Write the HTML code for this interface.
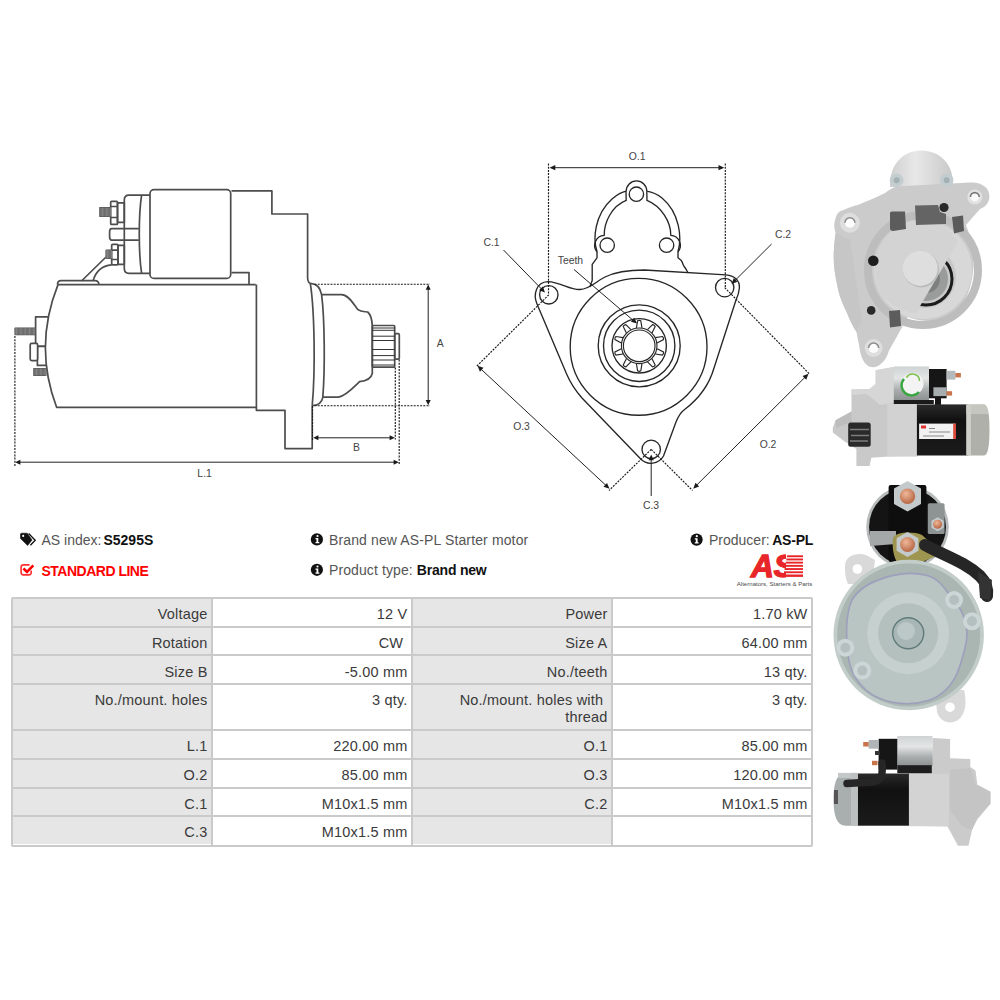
<!DOCTYPE html>
<html><head><meta charset="utf-8">
<style>
*{margin:0;padding:0;box-sizing:border-box}
html,body{width:1000px;height:1000px;background:#fff;overflow:hidden}
body{position:relative;font-family:"Liberation Sans",sans-serif;color:#333}
.abs{position:absolute}
svg{position:absolute;left:0;top:0}
.hd{position:absolute;font-size:14px;line-height:16px;white-space:nowrap;color:#555}
.hd b{color:#111;font-weight:700}
.tbl{position:absolute;left:11px;top:596.5px;width:802px;height:250px;border:2px solid #cacaca;border-radius:2px;background:#fff}
.cell{position:absolute;font-size:14.5px;line-height:17px;color:#3a3a3a;text-align:right;letter-spacing:0.2px;white-space:nowrap}
.lab{position:absolute;background:#e6e6e6}
.hl{position:absolute;height:2px;background:#cacaca}
.vl{position:absolute;width:2px;background:#cacaca}
</style></head>
<body>

<!-- ============ TABLE ============ -->
<div class="tbl"></div>
<div class="lab" style="left:13px;top:598.5px;width:198px;height:245.5px"></div>
<div class="lab" style="left:413px;top:598.5px;width:198px;height:245.5px"></div>
<div class="vl" style="left:211px;top:597px;height:248px"></div>
<div class="vl" style="left:411px;top:597px;height:248px"></div>
<div class="vl" style="left:611px;top:597px;height:248px"></div>
<div class="hl" style="left:12px;top:625.5px;width:800px"></div>
<div class="hl" style="left:12px;top:654px;width:800px"></div>
<div class="hl" style="left:12px;top:683px;width:800px"></div>
<div class="hl" style="left:12px;top:729px;width:800px"></div>
<div class="hl" style="left:12px;top:758px;width:800px"></div>
<div class="hl" style="left:12px;top:786.5px;width:800px"></div>
<div class="hl" style="left:12px;top:815px;width:800px"></div>

<!-- rows: text baselines approx top+20.5 -->
<div class="cell" style="right:792.5px;top:606px">Voltage</div>
<div class="cell" style="right:592.5px;top:606px">12 V</div>
<div class="cell" style="right:392.5px;top:606px">Power</div>
<div class="cell" style="right:192.5px;top:606px">1.70 kW</div>

<div class="cell" style="right:792.5px;top:635px">Rotation</div>
<div class="cell" style="right:592.5px;top:635px">CW&nbsp;</div>
<div class="cell" style="right:392.5px;top:635px">Size A</div>
<div class="cell" style="right:192.5px;top:635px">64.00 mm</div>

<div class="cell" style="right:792.5px;top:663.5px">Size B</div>
<div class="cell" style="right:592.5px;top:663.5px">-5.00 mm</div>
<div class="cell" style="right:392.5px;top:663.5px">No./teeth</div>
<div class="cell" style="right:192.5px;top:663.5px">13 qty.</div>

<div class="cell" style="right:792.5px;top:692px">No./mount. holes</div>
<div class="cell" style="right:592.5px;top:692px">3 qty.</div>
<div class="cell" style="right:392.5px;top:692px">No./mount. holes with&nbsp;<br>thread</div>
<div class="cell" style="right:192.5px;top:692px">3 qty.</div>

<div class="cell" style="right:792.5px;top:738px">L.1</div>
<div class="cell" style="right:592.5px;top:738px">220.00 mm</div>
<div class="cell" style="right:392.5px;top:738px">O.1</div>
<div class="cell" style="right:192.5px;top:738px">85.00 mm</div>

<div class="cell" style="right:792.5px;top:767px">O.2</div>
<div class="cell" style="right:592.5px;top:767px">85.00 mm</div>
<div class="cell" style="right:392.5px;top:767px">O.3</div>
<div class="cell" style="right:192.5px;top:767px">120.00 mm</div>

<div class="cell" style="right:792.5px;top:795.5px">C.1</div>
<div class="cell" style="right:592.5px;top:795.5px">M10x1.5 mm</div>
<div class="cell" style="right:392.5px;top:795.5px">C.2</div>
<div class="cell" style="right:192.5px;top:795.5px">M10x1.5 mm</div>

<div class="cell" style="right:792.5px;top:824px">C.3</div>
<div class="cell" style="right:592.5px;top:824px">M10x1.5 mm</div>

<!-- ============ HEADER INFO ============ -->
<div class="hd" style="left:41.5px;top:532.2px">AS index:<b style="margin-left:2px">S5295S</b></div>
<div class="hd" style="left:41.5px;top:563px;color:#f00;font-weight:700;letter-spacing:-0.5px">STANDARD LINE</div>
<div class="hd" style="left:329px;top:532px;letter-spacing:0.13px">Brand new AS-PL Starter motor</div>
<div class="hd" style="left:329px;top:562px;letter-spacing:0.1px">Product type: <b style="letter-spacing:-0.2px">Brand new</b></div>
<div class="hd" style="left:709px;top:532px">Producer:<b style="margin-left:2.5px;letter-spacing:-0.2px">AS-PL</b></div>

<svg width="1000" height="1000" viewBox="0 0 1000 1000">
  <!-- tag icon -->
  <path d="M21.2 533.2 H27.2 L32 540 L27.6 545.5 L20.5 538.4 V534 Z" fill="#111" stroke="#111" stroke-width="0.6" stroke-linejoin="round"/>
  <path d="M28.6 533.5 L35.2 540.3 L30.4 545.3" fill="none" stroke="#111" stroke-width="1.35"/>
  <circle cx="23.2" cy="535.9" r="1.05" fill="#fff"/>
  <!-- check icon -->
  <path d="M29.6 564.9 H23.4 Q21.1 564.9 21.1 567.2 V572.6 Q21.1 574.9 23.4 574.9 H28.9 Q31.2 574.9 31.2 572.6 V570.4" fill="none" stroke="#ff3030" stroke-width="1.6"/>
  <path d="M23.4 568.5 L27 571.9 L33.3 565.4" fill="none" stroke="#f00" stroke-width="2.6"/>
  <!-- info icons -->
  <g>
    <circle cx="316.9" cy="539.4" r="6.1" fill="#111"/>
    <circle cx="316.9" cy="569.8" r="6.1" fill="#111"/>
    <circle cx="696.6" cy="539.6" r="6.1" fill="#111"/>
  </g>
  <g fill="#fff">
    <circle cx="317.5" cy="536" r="1.1"/><path d="M315.5 538 h2.8 v4 h1 v1.2 h-3.8 v-1.2 h1 v-2.8 h-1 z"/>
    <circle cx="317.5" cy="566.5" r="1.1"/><path d="M315.5 568.5 h2.8 v4 h1 v1.2 h-3.8 v-1.2 h1 v-2.8 h-1 z"/>
    <circle cx="696.8" cy="536.2" r="1.1"/><path d="M694.8 538.2 h2.8 v4 h1 v1.2 h-3.8 v-1.2 h1 v-2.8 h-1 z"/>
  </g>
  <!-- AS logo -->
  <text x="751" y="577" font-family="Liberation Sans" font-weight="bold" font-style="italic" font-size="31" fill="#e8262a" stroke="#e8262a" stroke-width="1.3" textLength="44" lengthAdjust="spacingAndGlyphs">AS</text>
  <rect x="786" y="553" width="20" height="26" fill="#fff"/>
  <g fill="#e8262a">
    <rect x="787" y="555.3" width="16" height="1.9"/>
    <rect x="786.4" y="558.5" width="16.6" height="1.9"/>
    <rect x="785.8" y="561.7" width="17.2" height="1.9"/>
    <rect x="785.2" y="564.9" width="17.8" height="1.9"/>
    <rect x="784.6" y="568.1" width="18.4" height="1.9"/>
    <rect x="784" y="571.3" width="19" height="1.9"/>
    <rect x="783.4" y="574.5" width="19.6" height="2.4"/>
  </g>
  <text x="736.8" y="586" font-family="Liberation Sans" font-size="5.6" fill="#4a4a4a" textLength="75.5" lengthAdjust="spacingAndGlyphs">Alternators, Starters &amp; Parts</text>
  <!-- ============ LEFT DIAGRAM ============ -->
  <g fill="none" stroke="#4d4d4d" stroke-width="1.7" stroke-linejoin="round">
    <!-- housing -->
    <path d="M231.5 190.8 H271.9 V214 H307.6 V278 C307.8 281 308.5 283 310.5 283.6"/>
    <path d="M231.5 272.6 H249 V284.6"/>
    <path d="M256.4 407.3 V410.3 H285 V448.6 H312.2 V405.7"/>
    <!-- solenoid body -->
    <rect x="150" y="189.6" width="80.7" height="88.8" rx="4"/>
    <!-- solenoid cap -->
    <path d="M150 195.2 H129 C126 195.2 124.3 197 124.3 200 V268.5 C124.3 271.5 126 273.3 129 273.3 H150"/>
    <path d="M141.6 195.2 C138.5 215 138.5 253 141.6 273.3"/>
    <!-- middle bar -->
    <path d="M138.8 228.6 H111.6 C110 228.6 109.6 230 109.6 232 V236.8 C109.6 238.8 110 240.1 111.6 240.1 H138.8"/>
    <!-- upper terminal -->
    <rect x="117.5" y="202.9" width="6.8" height="19.4"/>
    <rect x="110.7" y="201.3" width="6.8" height="23.1" rx="1"/>
    <path d="M110.7 206.5 H117.5 M110.7 217.5 H117.5"/>
    <!-- lower terminal -->
    <rect x="118" y="245.4" width="6.3" height="18.9"/>
    <rect x="111.7" y="244.3" width="6.3" height="20.5" rx="1"/>
    <path d="M111.7 250.1 H118 M111.7 259.5 H118"/>
    <!-- wire -->
    <path d="M106 257 L81.5 281"/>
    <path d="M111.7 264.8 C104 265.5 96 270 93 281"/>
    <!-- end bracket -->
    <rect x="35.6" y="316.8" width="16" height="29.5" fill="#fff"/>
    <rect x="37.4" y="346.3" width="14" height="19.1" fill="#fff"/>
    <rect x="30.2" y="343.3" width="7.4" height="17.3" rx="1.5" fill="#fff"/>
    <!-- motor body -->
    <path d="M255.6 284.6 H58 Q33.5 346 56.6 407.3 H256.4 V284.6" fill="#fff"/>
    <path d="M57.5 284.6 C57.5 281.5 59 280.6 61 280.6 H95 C97.5 280.6 98.8 282.5 99 284.6"/>
    <!-- flange -->
    <path d="M310.3 283.4 C314.5 310 315.5 370 312.2 405.7"/>
    <path d="M310.3 283.4 C316 283.6 320 286 321.6 294.7 C324.8 320 325 370 322.8 397.4 C322 402 319 405.4 312.2 405.7"/>
    <!-- nose -->
    <path d="M321.8 294.7 H341.5 C349 294.7 354 305 358 309.7 C361 312 364 311.5 367.7 312 C371 315 372 320 372.3 325.5 V373.5 C371 379 366 381 359.5 381.7 C353 388 346 396 338.5 397.2 H322.8"/>
    <!-- pinion -->
    <rect x="372.3" y="325.5" width="22.4" height="41.7" rx="1"/>
    <rect x="394.7" y="333.7" width="4.6" height="25.5" rx="1.2"/>
  </g>
  <!-- threads -->
  <g fill="#4a4a4a">
    <rect x="99.1" y="207" width="11.6" height="10" rx="0.8"/>
    <rect x="105.4" y="249.6" width="6.3" height="9.4" rx="1.2"/>
    <rect x="14.4" y="327.6" width="21.2" height="7.7" rx="0.8"/>
    <rect x="33.1" y="367.9" width="13.5" height="8.1" rx="0.8"/>
  </g>
  <g stroke="#b8b8b8" stroke-width="0.55">
    <path d="M99.9 207.5v9.0 M101.2 207.5v9.0 M102.5 207.5v9.0 M103.8 207.5v9.0 M105.1 207.5v9.0 M106.4 207.5v9.0 M107.7 207.5v9.0 M109.0 207.5v9.0 M110.3 207.5v9.0"/>
    <path d="M106.2 250.1v8.4 M107.5 250.1v8.4 M108.8 250.1v8.4 M110.1 250.1v8.4 M111.4 250.1v8.4"/>
    <path d="M15.2 328.1v6.7 M16.5 328.1v6.7 M17.8 328.1v6.7 M19.1 328.1v6.7 M20.4 328.1v6.7 M21.7 328.1v6.7 M23.0 328.1v6.7 M24.3 328.1v6.7 M25.6 328.1v6.7 M26.9 328.1v6.7 M28.2 328.1v6.7 M29.5 328.1v6.7 M30.8 328.1v6.7 M32.1 328.1v6.7 M33.4 328.1v6.7 M34.7 328.1v6.7"/>
    <path d="M33.9 368.4v7.1 M35.2 368.4v7.1 M36.5 368.4v7.1 M37.8 368.4v7.1 M39.1 368.4v7.1 M40.4 368.4v7.1 M41.7 368.4v7.1 M43.0 368.4v7.1 M44.3 368.4v7.1 M45.6 368.4v7.1"/>
  </g>
  <!-- pinion teeth -->
  <g stroke="#333" stroke-width="1">
    <path d="M372.3 328 H394.7 M372.3 330.3 H394.7 M372.3 336.2 H394.7 M372.3 340.5 H394.7 M372.3 349.5 H394.7 M372.3 355.6 H394.7 M372.3 360 H394.7 M372.3 365 H394.7"/>
  </g>
  <!-- dimension lines -->
  <g fill="none" stroke="#1a1a1a" stroke-width="1.15" stroke-dasharray="2 1.2">
    <path d="M14.9 336 V466"/>
    <path d="M314.5 284.2 H430"/>
    <path d="M314.5 405.7 H430"/>
    <path d="M395.3 367.5 V439.5"/>
    <path d="M399.2 359.5 V464"/>
    <path d="M312.5 406 V440"/>
  </g>
  <g fill="none" stroke="#222" stroke-width="1">
    <path d="M428.2 287 V403"/>
    <path d="M316 437.8 H393"/>
    <path d="M17 462.2 H397"/>
  </g>
  <g fill="#1a1a1a">
    <path d="M428.20 284.50 L430.70 289.70 L425.70 289.70 Z"/>
    <path d="M428.20 405.20 L425.70 400.00 L430.70 400.00 Z"/>
    <path d="M313.20 437.80 L318.40 435.30 L318.40 440.30 Z"/>
    <path d="M394.80 437.80 L389.60 440.30 L389.60 435.30 Z"/>
    <path d="M15.20 462.20 L20.40 459.70 L20.40 464.70 Z"/>
    <path d="M398.80 462.20 L393.60 464.70 L393.60 459.70 Z"/>
  </g>
  <g font-family="Liberation Sans" font-size="10.4" fill="#444" text-anchor="middle">
    <text x="440.3" y="347.3">A</text>
    <text x="356.5" y="451">B</text>
    <text x="204.6" y="477">L.1</text>
  </g>
  <!-- ============ MIDDLE DIAGRAM ============ -->
  <g fill="none" stroke="#262626" stroke-width="1.35" stroke-linejoin="round">
    <!-- flange outline -->
    <path d="M644.5 270 L726 274.8 C734 275.5 740 280 739.4 288 C739 292 738 296 736 300 L714 368 C710 382 700 398 684 410 C680 413 678 417 676 422 L663.5 456 A14.4 14.4 0 0 1 640.5 458.8 L582 398 C575 390 570 382 566.6 374 L537 304 C533 295 536 282 548 281.6 C560 282 570 290 580 289.5 C590 289 595 282 605 277 C615 272 628 270 644.5 270 Z"/>
    <!-- top bracket -->
    <path d="M589.8 287 L592.2 280.6 V264.4 L597 257.8 V251.8 C593 240 594 215 612 199 C618 194 622 192 626.2 191.2 A10.2 10.2 0 0 1 646.8 191.2 C652 192 657 194 662 198 C680 213 682 238 678 251.8 V257.8 L681 260.2 C683 263 683 265 684 266.2 C685.5 268 686.5 270 687.8 272.4"/>
    <path d="M597 251.8 A10 10 0 0 1 604.2 235.4 C604 222 612 206 626.2 200.4 L626 191.5 M646.8 191.5 L647 200.4 C661 206 671 222 670.8 235.4 A10 10 0 0 1 678 251.8"/>
    <circle cx="636.4" cy="194.2" r="7.2"/>
    <circle cx="607.2" cy="245.2" r="7.2"/>
    <circle cx="666.6" cy="245.2" r="7.2"/>
    <!-- holes -->
    <circle cx="548.8" cy="294.8" r="9.2"/>
    <circle cx="724.7" cy="287.6" r="9.2"/>
    <circle cx="651.2" cy="449.4" r="9.2"/>
    <!-- rings -->
    <circle cx="638.6" cy="346.8" r="68.4"/>
    <circle cx="639.2" cy="345.8" r="41"/>
    <circle cx="639.2" cy="345.8" r="35.7"/>
    <circle cx="639.2" cy="345.8" r="27.2"/>
  </g>
  <g fill="none" stroke="#262626" stroke-width="1.15">
    <circle cx="639.2" cy="345.8" r="17.8"/>
    <circle cx="639.2" cy="345.8" r="15.8"/>
    <path d="M636.40 327.90 L637.60 320.80 Q639.20 319.80 640.80 320.80 L642.00 327.90 M647.46 329.67 L652.60 324.63 Q654.48 324.77 655.19 326.52 L651.99 332.96 M655.36 337.61 L662.48 336.55 Q663.93 337.77 663.47 339.60 L657.09 342.93 M657.09 348.67 L663.47 352.00 Q663.93 353.83 662.48 355.05 L655.36 353.99 M651.99 358.64 L655.19 365.08 Q654.48 366.83 652.60 366.97 L647.46 361.93 M642.00 363.70 L640.80 370.80 Q639.20 371.80 637.60 370.80 L636.40 363.70 M630.94 361.93 L625.80 366.97 Q623.92 366.83 623.21 365.08 L626.41 358.64 M623.04 353.99 L615.92 355.05 Q614.47 353.83 614.93 352.00 L621.31 348.67 M621.31 342.93 L614.93 339.60 Q614.47 337.77 615.92 336.55 L623.04 337.61 M626.41 332.96 L623.21 326.52 Q623.92 324.77 625.80 324.63 L630.94 329.67"/>
  </g>
  <g fill="none" stroke="#1a1a1a" stroke-width="1.15" stroke-dasharray="2 1.2">
    <path d="M548.5 163.5 V294"/>
    <path d="M725.3 163.5 V287"/>
    <path d="M548.8 294.8 L476.5 366.4"/>
    <path d="M651.2 449.4 L609 490.5"/>
    <path d="M724.7 287.6 L809 373.5"/>
    <path d="M651.2 449.4 L692.5 490.5"/>
  </g>
  <g fill="none" stroke="#222" stroke-width="1">
    <path d="M552 167.7 H722"/>
    <path d="M480 368.2 L607 486.4"/>
    <path d="M806 376.3 L695.5 486.3"/>
    <path d="M503.5 250 L542.5 290"/>
    <path d="M771.6 244 L733.5 282"/>
    <path d="M574 269.5 L634.5 321.5"/>
    <path d="M651.2 496 V457"/>
  </g>
  <g fill="#1a1a1a">
    <path d="M549.50 167.70 L555.30 165.10 L555.30 170.30 Z"/>
    <path d="M724.30 167.70 L718.50 170.30 L718.50 165.10 Z"/>
    <path d="M477.50 365.80 L483.51 367.86 L479.96 371.66 Z"/>
    <path d="M609.50 488.80 L603.49 486.73 L607.04 482.94 Z"/>
    <path d="M808.50 373.80 L806.22 379.73 L802.55 376.04 Z"/>
    <path d="M693.20 488.80 L695.48 482.87 L699.14 486.55 Z"/>
    <path d="M545.00 292.50 L539.09 290.17 L542.81 286.53 Z"/>
    <path d="M731.50 284.00 L733.77 278.06 L737.44 281.74 Z"/>
    <path d="M637.00 323.50 L630.90 321.70 L634.29 317.75 Z"/>
    <path d="M651.20 454.50 L653.80 460.30 L648.60 460.30 Z"/>
  </g>
  <g font-family="Liberation Sans" font-size="10.4" fill="#444" text-anchor="middle">
    <text x="637.1" y="160">O.1</text>
    <text x="491.5" y="246">C.1</text>
    <text x="783" y="238">C.2</text>
    <text x="570.4" y="264">Teeth</text>
    <text x="521.5" y="430">O.3</text>
    <text x="768" y="448">O.2</text>
    <text x="651" y="509">C.3</text>
  </g>
  <!-- ============ PHOTOS ============ -->
  <defs>
    <linearGradient id="gFl" x1="0" y1="0" x2="1" y2="1">
      <stop offset="0" stop-color="#e2e2e2"/><stop offset="0.5" stop-color="#d2d2d2"/><stop offset="1" stop-color="#c4c4c4"/>
    </linearGradient>
    <linearGradient id="gDome" x1="0" y1="0" x2="1" y2="0">
      <stop offset="0" stop-color="#cfcfcf"/><stop offset="0.4" stop-color="#e8e8e8"/><stop offset="1" stop-color="#c8c8c8"/>
    </linearGradient>
    <linearGradient id="gSil" x1="0" y1="0" x2="0" y2="1">
      <stop offset="0" stop-color="#cfd3d3"/><stop offset="0.35" stop-color="#e4e6e6"/><stop offset="0.7" stop-color="#a9adad"/><stop offset="1" stop-color="#8d9191"/>
    </linearGradient>
    <linearGradient id="gBlk" x1="0" y1="0" x2="0" y2="1">
      <stop offset="0" stop-color="#2a2a2a"/><stop offset="0.3" stop-color="#111"/><stop offset="1" stop-color="#1b1b1b"/>
    </linearGradient>
    <linearGradient id="gHs" x1="0" y1="0" x2="0" y2="1">
      <stop offset="0" stop-color="#d9d9d9"/><stop offset="0.5" stop-color="#cdcdcd"/><stop offset="1" stop-color="#c2c2c2"/>
    </linearGradient>
    <radialGradient id="gPlate" cx="0.45" cy="0.45" r="0.6">
      <stop offset="0" stop-color="#c9d1d3"/><stop offset="0.6" stop-color="#b6c0c3"/><stop offset="1" stop-color="#9aa5a8"/>
    </radialGradient>
    <radialGradient id="gHub" cx="0.4" cy="0.4" r="0.7">
      <stop offset="0" stop-color="#d8dfe1"/><stop offset="1" stop-color="#9aa6a9"/>
    </radialGradient>
    <radialGradient id="gCu" cx="0.4" cy="0.35" r="0.7">
      <stop offset="0" stop-color="#f0b89a"/><stop offset="1" stop-color="#b3623f"/>
    </radialGradient>
  </defs>

  <!-- Photo 1: front view -->
  <g>
    <path d="M890 187 C889 165 903 150.5 921 150.5 C940 150.5 954 164 953 187 Z" fill="url(#gDome)"/>
    <path d="M896 186.5 L969.7 182.5 C975 182 980 183 984 186 C990 190 991 198 987 204 C985 207 982 208 980 209 L966 225 C972 240 975 255 973 272 C971 292 962 310 949 317 C937 323 920 322 907.8 317 L888.8 351 C887 358 881 367 873.6 367.3 C866 367.5 861 360 859.4 347.3 C858 340 857 335 856.5 332 C852 325 849 318 847 313 C842 302 839 295 837.5 286.5 C835 275 833.5 265 833.7 256 C834 245 835 238 835.6 233.2 C834 228 834 224 834.7 221.8 C836 214 839 211 842.3 210.4 C848 208 853 206 858.4 204.7 C868 201 877 197 885 193 C889 190 892 188 896 186.5 Z" fill="#cbcbcb"/>
    <path d="M847 313 C842 302 839 295 837.5 286.5 C835 275 833.5 265 833.7 256 C834 245 835 238 835.6 233.2 L850 240 L862 320 L856.5 332 C852 325 849 318 847 313 Z" fill="#c6c6c6"/>
    <circle cx="923" cy="270" r="55" fill="none" stroke="#bdbdbd" stroke-width="8"/>
    <circle cx="923" cy="270" r="49" fill="#d8d8d8"/>
    <circle cx="925" cy="277" r="31" fill="#c8c8c8"/>
    <circle cx="926" cy="279" r="26" fill="none" stroke="#1c1c1c" stroke-width="3"/>
    <circle cx="926" cy="279" r="22" fill="#9a9c9c"/>
    <circle cx="926" cy="279" r="14" fill="#7e8080"/>
    <path d="M958 241.8 L916 313 C905 313 890 305 882 295 C874 282 873 262 879 248 C886 232 902 221 920 220 C935 219 948 226 958 241.8 Z" fill="#d3d3d3"/>
    <circle cx="921.2" cy="269.6" r="17.8" fill="#b9b9b9"/><circle cx="920.2" cy="268.4" r="17.5" fill="#dedede"/>
    <path d="M890 213 C890 212 891 211.5 893 211.5 L905 211.5 L906 229 L893 231 C891 231 890 230 890 228 Z" fill="#5c5c5c"/>
    <path d="M915 205.5 L938 205 L940 212 L946 214 L946 224 L916 225 Z" fill="#646464"/>
    <path d="M952 217 L963 215.5 L964 231 L954 233.5 Z" fill="#5a5a5a"/>
    <path d="M889 311 L900 310 L901 326 L890 327.5 Z" fill="#5c5c5c"/>
    <circle cx="944" cy="207.5" r="4.6" fill="#2a2a2a"/>
    <circle cx="873.3" cy="260.7" r="5.3" fill="#1e1e1e"/>
    <circle cx="871.2" cy="310.4" r="4.3" fill="#2a2a2a"/>
    <circle cx="849.9" cy="222.8" r="10" fill="#dedede"/><circle cx="849.9" cy="222.8" r="5" fill="#fdfdfd"/><path d="M844.9 222.8 A5 5 0 0 1 854.9 222.8" fill="none" stroke="#8a8a8a" stroke-width="1.6"/>
    <circle cx="974.8" cy="197" r="7.5" fill="#e2e2e2"/><circle cx="974.8" cy="197" r="4.4" fill="#fafafa"/><path d="M970.4 197 A4.4 4.4 0 0 1 979.2 197" fill="none" stroke="#777" stroke-width="1.6"/>
    <circle cx="873.6" cy="348" r="9" fill="#dedede"/><circle cx="873.6" cy="348" r="5" fill="#fdfdfd"/><path d="M868.6 348 A5 5 0 0 1 878.6 348" fill="none" stroke="#8a8a8a" stroke-width="1.6"/>
    <circle cx="896.6" cy="180.3" r="6.8" fill="#c3cdd0"/><circle cx="896.6" cy="180.3" r="3" fill="#a3b0b4"/>
    <circle cx="946.6" cy="180.3" r="6.8" fill="#c3cdd0"/><circle cx="946.6" cy="180.3" r="3" fill="#a3b0b4"/>
  </g>

  <!-- Photo 2: side view -->
  <g>
    <path d="M832.8 428 L835.5 420.3 L851.5 411.5 L851.5 389.5 L869.6 389 L875.7 384 L875.7 370.3 L893.8 367 L893.8 403 L918 403.8 L918 455.5 L888.3 456.6 L871.3 457.7 L869.6 466 L856.4 466 L856.4 449 L844.3 441.2 L832.8 432.4 Z" fill="#c9c9c9"/>
    <path d="M851.5 389.5 L869.6 389 L875.7 384 L875.7 370.3 L893.8 367 L893.8 403 L888 403.8 L880 405 L872 398 L866 394 L851.5 395 Z" fill="#d6d6d6"/>
    <rect x="887.2" y="403.8" width="30" height="52.8" fill="#d2d2d2"/>
    <path d="M835.5 420.3 L851.5 411.5 L851.5 422 L836 428 Z" fill="#bdbdbd"/>
    <rect x="848.2" y="422.5" width="22.5" height="24.2" rx="2.5" fill="#2a2a2a"/>
    <path d="M850 429.5 H869 M851 435.5 H869 M850 441 H868" stroke="#7d7d7d" stroke-width="1.4"/>
    <rect x="893.8" y="366.4" width="35.2" height="33.6" fill="url(#gSil)"/>
    <rect x="893.8" y="400" width="40" height="4" fill="#1a1a1a"/>
    <circle cx="912.5" cy="384" r="11" fill="#f3f3f3"/>
    <path d="M904 379 A9 9 0 0 0 919 392" fill="none" stroke="#3aa640" stroke-width="2.4"/>
    <path d="M906.5 377.5 A7 7 0 0 1 919.5 381" fill="none" stroke="#7cc050" stroke-width="1.6"/>
    <rect x="929" y="369" width="17.6" height="29.3" fill="#161616"/>
    <rect x="935" y="398" width="6" height="7" fill="#161616"/>
    <rect x="946.6" y="370.8" width="8.8" height="8.8" fill="#b4babc"/>
    <rect x="955.4" y="373" width="5.5" height="4.4" fill="#c8754c"/>
    <rect x="933.4" y="387.3" width="13.2" height="8.8" fill="#a8aeb0"/>
    <rect x="946.6" y="391.2" width="5.5" height="4.4" fill="#c8754c"/>
    <rect x="916.9" y="404.4" width="51.1" height="51.1" fill="url(#gBlk)"/>
    <rect x="919.1" y="423.6" width="36.3" height="15.4" fill="#f2f2f2"/>
    <rect x="953.2" y="423.6" width="2.8" height="15.4" fill="#d94a3a"/>
    <rect x="921" y="425.5" width="5" height="3" fill="#d33"/>
    <path d="M929 428.5 H935 M929 432 H950 M923 436 H944" stroke="#888" stroke-width="1"/>
    <path d="M966.4 404.4 H984 C988 404.4 989.5 415 989.5 430 C989.5 445 988 455.5 984 455.5 H966.4 Z" fill="#b0b0aa"/>
    <path d="M966.4 404.4 H984 C986 404.4 987.5 408 988.3 414 H966.4 Z" fill="#c6c6c0"/>
    <rect x="966.4" y="404.4" width="4.5" height="51.1" fill="#cfcfca"/>
  </g>

  <!-- Photo 3: rear view -->
  <g>
    <path d="M845 566 C845 556 856 552 866 555 L875 560 L872 585 L848 584 C845 578 845 572 845 566 Z" fill="#d9d9d9"/>
    <circle cx="857.4" cy="569" r="4.8" fill="#fff"/>
    <path d="M935 690 L964 690 C967 702 966 714 958 720 C950 725 940 722 937 712 Z" fill="#d9d9d9"/>
    <circle cx="950" cy="707.2" r="4.8" fill="#fff"/>
    <circle cx="907.5" cy="527" r="41.3" fill="#b8bcbc"/>
    <circle cx="907.5" cy="527" r="38.5" fill="#141414"/>
    <rect x="888.6" y="485" width="37.8" height="77" rx="2" fill="#0e0e0e"/>
    <rect x="927.8" y="503.2" width="16.8" height="30.8" rx="1.5" fill="#8e9494"/>
    <path d="M870 531 L896 531 L896 544 L870 546 Z" fill="#a4a8a8"/>
    <path d="M907.5 481 L921 488.5 L921 504 L907.5 511.5 L894 504 L894 488.5 Z" fill="#c4cacc"/>
    <circle cx="907.5" cy="496.2" r="7.7" fill="url(#gCu)"/>
    <path d="M937.6 517.2 L943.7 520.7 L943.7 527.7 L937.6 531.2 L931.5 527.7 L931.5 520.7 Z" fill="#c4cacc"/>
    <circle cx="937.6" cy="524.2" r="4.5" fill="url(#gCu)"/>
    <path d="M893 538 C896 532 912 531 922 535 L933 545 L934 557 L922 562 L897 562 C893 556 892 545 893 538 Z" fill="#9e9650"/>
    <path d="M907.5 532 L918.4 538.3 L918.4 550.7 L907.5 557 L896.6 550.7 L896.6 538.3 Z" fill="#c4cacc"/>
    <circle cx="907.5" cy="544.5" r="7.5" fill="url(#gCu)"/>
    <circle cx="908.7" cy="635" r="75.2" fill="#c2ccc9"/>
    <circle cx="908.7" cy="635" r="71.5" fill="#a9b6b2"/>
    <path d="M852 600 C865 578 905 570 925 575 C940 578 945 590 952 598 C965 612 970 630 965 648 C960 668 955 690 930 700 C905 708 880 702 866 690 C855 680 850 670 848 655 C846 640 845 615 852 600 Z" fill="#b9c5c2" stroke="#9d9fbd" stroke-width="1.6"/>
    <circle cx="908.2" cy="633.2" r="41" fill="#c6d0ce"/>
    <circle cx="908.2" cy="633.2" r="30" fill="#b4c0be"/>
    <circle cx="908.2" cy="633.2" r="15.5" fill="#a8b6b5" stroke="#5f7a7a" stroke-width="1.4"/>
    <circle cx="906" cy="631" r="9" fill="#bcc8c7"/>
    <path d="M925 545 C945 556 965 562 980 576 C985 581 988 588 987 596" fill="none" stroke="#262626" stroke-width="12" stroke-linecap="round"/>
    <path d="M978 572 L992 580 L990 600 L980 598 Z" fill="#333"/>
    <circle cx="954.1" cy="600" r="9" fill="#ccd6d6"/><circle cx="954.1" cy="600" r="5" fill="#b4c0c0"/>
    <circle cx="972" cy="621.3" r="9" fill="#ccd6d6"/><circle cx="972" cy="621.3" r="5" fill="#b4c0c0"/>
    <circle cx="845.3" cy="647.7" r="9" fill="#ccd6d6"/><circle cx="845.3" cy="647.7" r="5" fill="#b4c0c0"/>
    <circle cx="862.3" cy="670.6" r="9" fill="#ccd6d6"/><circle cx="862.3" cy="670.6" r="5" fill="#b4c0c0"/>
  </g>

  <!-- Photo 4: side view 2 -->
  <g>
    <path d="M907.3 772 L907.3 825.7 L947.5 826.5 L958 845.8 L968.5 845.8 L972 830 L977.3 819.5 L990.4 803.8 L990.4 791.5 L977.3 784.5 L975.5 770.5 L970.3 767 L970.3 759 L950.1 758.3 L950.1 739 L932.5 738.1 L931.8 767 L907.3 770 Z" fill="#cbcbcb"/>
    <rect x="908.9" y="773.7" width="40" height="52.5" fill="#d3d3d3"/>
    <path d="M950 770 L970 768 L976 785 L990.4 792 L990.4 803.8 L977 818 L972 830 L962 826 L950 810 Z" fill="#c4c4c4"/>
    <rect x="897.3" y="736" width="35.2" height="30" fill="url(#gSil)"/>
    <rect x="897.3" y="765.2" width="34.5" height="8" fill="#1e1e1e"/>
    <rect x="878.6" y="738.8" width="18.7" height="30.8" fill="#161616"/>
    <rect x="868.7" y="740" width="9.9" height="8.7" fill="#b0b6b8"/>
    <rect x="863.2" y="742" width="5.5" height="4.5" fill="#c8754c"/>
    <rect x="875" y="751" width="5" height="4" fill="#333"/>
    <rect x="872" y="760.8" width="5.5" height="4.4" fill="#c8754c"/>
    <rect x="857.7" y="773.5" width="51.2" height="52.2" fill="url(#gBlk)"/>
    <path d="M857.7 772.9 H846 C836 772.9 833.5 785 833.5 799 C833.5 814 836 825.7 846 825.7 H857.7 Z" fill="#a9aeae"/>
    <rect x="838" y="772.9" width="19.7" height="5" fill="#c4c8c8"/>
    <rect x="851" y="772.9" width="6.7" height="52.8" fill="#bcc0c0"/>
    <rect x="834" y="790" width="4" height="14" fill="#555"/>
    <path d="M882 763 C883 775 882 781 872 782 L847 783.5" fill="none" stroke="#262626" stroke-width="7.5" stroke-linecap="round"/>
  </g>
</svg>

</body></html>
